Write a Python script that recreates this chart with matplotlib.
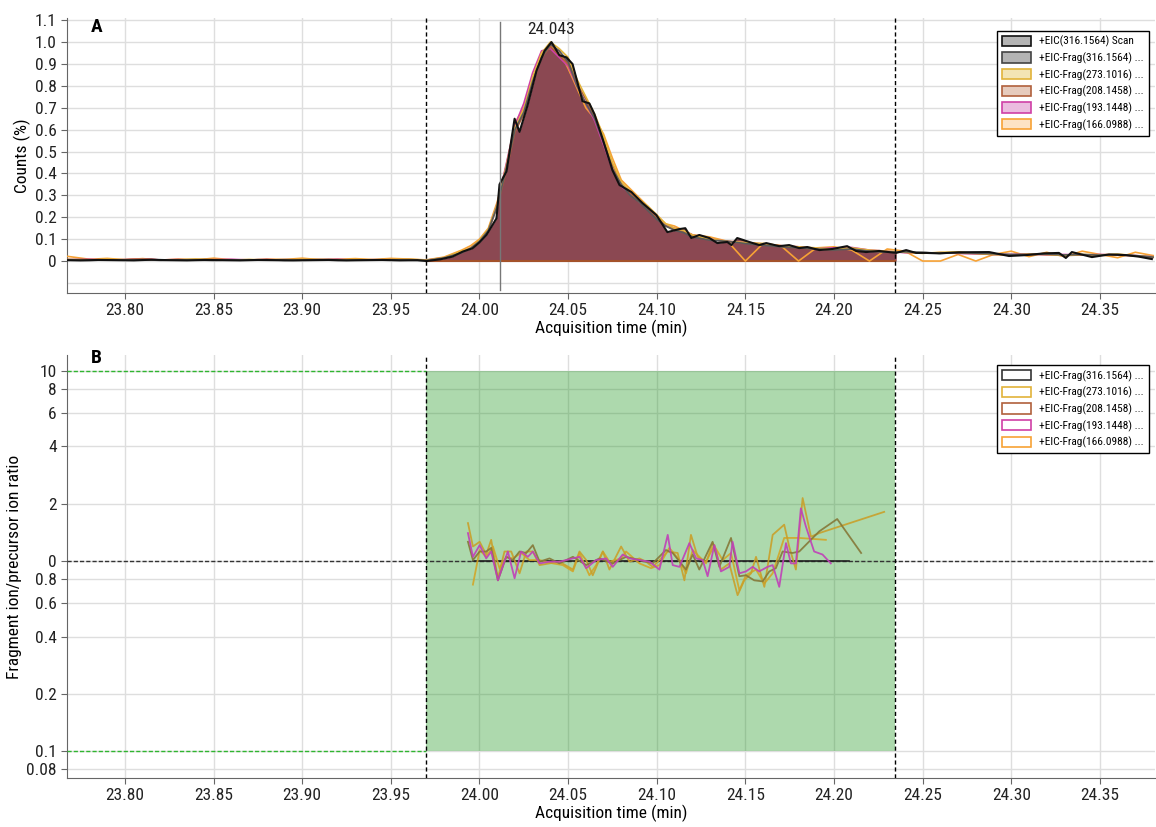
import matplotlib
matplotlib.use("Agg")
import matplotlib.pyplot as plt
import matplotlib.patches as mpatches
from matplotlib.ticker import NullLocator
from matplotlib import font_manager
import numpy as np

# pick a condensed font if there is one
names = {f.name for f in font_manager.fontManager.ttflist}
fam = 'DejaVu Sans'
for cand in ['Roboto Condensed', 'Liberation Sans Narrow', 'Open Sans Condensed']:
    if cand in names:
        fam = cand
        break
plt.rcParams['font.family'] = [fam, 'DejaVu Sans']

# ---- data ----
window_start = 23.970
window_end = 24.2345
apex_marker = 24.0113
apex_time = 24.0406
apex_label = "24.043"

scan_t = [23.767, 23.775, 23.785, 23.795, 23.805, 23.815, 23.825, 23.835, 23.845, 23.855,
          23.865, 23.875, 23.885, 23.895, 23.905, 23.915, 23.925, 23.935, 23.945, 23.955,
          23.965, 23.9702, 23.9780, 23.9848, 23.9905, 23.9961, 24.0000, 24.0040, 24.0070, 24.0096,
          24.0113, 24.0153, 24.0198, 24.0226, 24.0271, 24.0322, 24.0367, 24.0406, 24.0451, 24.0491,
          24.0525, 24.0581, 24.0620, 24.0649, 24.0694, 24.0750, 24.0790, 24.0857, 24.0919, 24.0998,
          24.1060, 24.1128, 24.1161, 24.1195, 24.1240, 24.1297, 24.1342, 24.1398, 24.1421, 24.1454,
          24.1522, 24.1578, 24.1618, 24.1691, 24.1747, 24.1804, 24.1849, 24.1917, 24.1990, 24.2074,
          24.2125, 24.2181, 24.2255, 24.2351, 24.2407, 24.2463, 24.2520, 24.2593, 24.2706, 24.2875,
          24.2987, 24.3083, 24.3185, 24.3269, 24.3308, 24.3342, 24.3455, 24.3551, 24.3647, 24.3720,
          24.3793]
scan_v = [0.004, 0.003, 0.005, 0.004, 0.003, 0.006, 0.004, 0.003, 0.005, 0.004,
          0.003, 0.005, 0.004, 0.003, 0.004, 0.005, 0.003, 0.004, 0.005, 0.003,
          0.004, 0.0, 0.008, 0.02, 0.043, 0.058, 0.085, 0.12, 0.16, 0.195,
          0.35, 0.41, 0.65, 0.59, 0.71, 0.87, 0.96, 1.0, 0.94, 0.93,
          0.90, 0.73, 0.72, 0.67, 0.56, 0.415, 0.347, 0.315, 0.265, 0.21,
          0.132, 0.146, 0.15, 0.105, 0.119, 0.105, 0.082, 0.087, 0.073, 0.105,
          0.087, 0.073, 0.082, 0.068, 0.073, 0.059, 0.064, 0.05, 0.055, 0.068,
          0.046, 0.041, 0.046, 0.037, 0.05, 0.037, 0.037, 0.035, 0.04, 0.041,
          0.023, 0.027, 0.035, 0.037, 0.014, 0.041, 0.018, 0.03, 0.027, 0.02,
          0.009]

frag_t = [23.767, 23.78, 23.79, 23.80, 23.81, 23.82, 23.83, 23.84, 23.85, 23.86,
          23.87, 23.88, 23.89, 23.90, 23.91, 23.92, 23.93, 23.94, 23.95, 23.96,
          23.97, 23.98, 23.99, 23.995, 24.00, 24.005, 24.01, 24.015, 24.02, 24.025,
          24.03, 24.035, 24.04, 24.045, 24.05, 24.055, 24.06, 24.065, 24.07, 24.075,
          24.08, 24.085, 24.09, 24.095, 24.10, 24.105, 24.11, 24.115, 24.12, 24.13,
          24.14, 24.15, 24.16, 24.17, 24.18, 24.19, 24.20, 24.21, 24.22, 24.23,
          24.24, 24.25, 24.26, 24.27, 24.28, 24.29, 24.30, 24.31, 24.32, 24.33,
          24.34, 24.35, 24.36, 24.37, 24.38]
frag316 = [0.004, 0.003, 0.005, 0.004, 0.006, 0.003, 0.005, 0.004, 0.003, 0.005,
           0.004, 0.006, 0.003, 0.004, 0.005, 0.003, 0.004, 0.005, 0.006, 0.004,
           0.002, 0.014, 0.038, 0.058, 0.09, 0.14, 0.25, 0.42, 0.60, 0.68,
           0.82, 0.93, 0.99, 0.96, 0.91, 0.80, 0.72, 0.65, 0.54, 0.42,
           0.35, 0.30, 0.27, 0.23, 0.19, 0.16, 0.14, 0.13, 0.11, 0.095,
           0.09, 0.08, 0.072, 0.065, 0.06, 0.055, 0.05, 0.055, 0.045, 0.04,
           0.042, 0.04, 0.035, 0.038, 0.036, 0.033, 0.03, 0.03, 0.032, 0.028,
           0.03, 0.027, 0.03, 0.025, 0.018]
frag273 = [0.006, 0.004, 0.008, 0.005, 0.007, 0.004, 0.006, 0.009, 0.005, 0.004,
           0.007, 0.005, 0.004, 0.008, 0.006, 0.005, 0.007, 0.004, 0.006, 0.008,
           0.004, 0.016, 0.045, 0.06, 0.095, 0.145, 0.26, 0.43, 0.61, 0.69,
           0.84, 0.95, 1.0, 0.97, 0.93, 0.83, 0.75, 0.67, 0.57, 0.45,
           0.36, 0.32, 0.28, 0.25, 0.21, 0.17, 0.15, 0.14, 0.12, 0.10,
           0.09, 0.085, 0.08, 0.07, 0.065, 0.06, 0.055, 0.06, 0.05, 0.045,
           0.04, 0.035, 0.04, 0.042, 0.035, 0.03, 0.028, 0.032, 0.03, 0.026,
           0.03, 0.028, 0.032, 0.024, 0.02]
frag208 = [0.008, 0.006, 0.004, 0.007, 0.009, 0.005, 0.004, 0.008, 0.006, 0.005,
           0.006, 0.004, 0.007, 0.005, 0.008, 0.006, 0.004, 0.006, 0.005, 0.007,
           0.003, 0.013, 0.042, 0.057, 0.088, 0.135, 0.25, 0.41, 0.59, 0.67,
           0.81, 0.93, 0.98, 0.94, 0.90, 0.81, 0.74, 0.66, 0.55, 0.44,
           0.35, 0.31, 0.27, 0.24, 0.20, 0.16, 0.145, 0.135, 0.115, 0.10,
           0.088, 0.082, 0.074, 0.066, 0.06, 0.054, 0.052, 0.056, 0.046, 0.042,
           0.04, 0.036, 0.038, 0.036, 0.034, 0.03, 0.027, 0.03, 0.03, 0.025,
           0.028, 0.026, 0.027, 0.023, 0.016]
frag193 = [0.005, 0.008, 0.004, 0.006, 0.01, 0.005, 0.007, 0.004, 0.006, 0.008,
           0.005, 0.007, 0.004, 0.006, 0.005, 0.008, 0.004, 0.006, 0.005, 0.006,
           0.004, 0.015, 0.042, 0.06, 0.092, 0.14, 0.26, 0.44, 0.62, 0.72,
           0.86, 0.96, 0.97, 0.93, 0.89, 0.80, 0.72, 0.64, 0.53, 0.42,
           0.34, 0.31, 0.27, 0.24, 0.20, 0.165, 0.15, 0.14, 0.12, 0.10,
           0.09, 0.085, 0.078, 0.07, 0.065, 0.058, 0.06, 0.062, 0.05, 0.045,
           0.038, 0.036, 0.038, 0.035, 0.033, 0.03, 0.03, 0.033, 0.028, 0.03,
           0.027, 0.03, 0.028, 0.025, 0.02]
frag166 = [0.022, 0.008, 0.012, 0.006, 0.011, 0.004, 0.009, 0.005, 0.013, 0.006,
           0.004, 0.009, 0.007, 0.013, 0.006, 0.008, 0.011, 0.007, 0.012, 0.009,
           0.005, 0.018, 0.05, 0.07, 0.10, 0.15, 0.27, 0.43, 0.63, 0.70,
           0.83, 0.94, 0.98, 0.96, 0.88, 0.79, 0.70, 0.65, 0.58, 0.47,
           0.37, 0.33, 0.29, 0.25, 0.21, 0.17, 0.16, 0.14, 0.12, 0.11,
           0.09, 0.0, 0.08, 0.07, 0.0, 0.06, 0.065, 0.05, 0.0, 0.055,
           0.045, 0.0, 0.0, 0.03, 0.0, 0.03, 0.045, 0.02, 0.04, 0.02,
           0.045, 0.03, 0.015, 0.04, 0.025]

# panel B: fragment / precursor ratios
ratio316_t = [23.9963, 24.2086]
ratio316 = [1.0, 1.0]
ratio273_t = [23.9935, 23.9963, 24.0001, 24.0038, 24.0066, 24.0104, 24.0141, 24.0179, 24.0226, 24.0264,
              24.0301, 24.0339, 24.0395, 24.0451, 24.0527, 24.0564, 24.0602, 24.0639, 24.0696, 24.0733,
              24.0799, 24.0846, 24.0902, 24.0940, 24.0977, 24.1062, 24.1118, 24.1156, 24.1193, 24.1231,
              24.1278, 24.1325, 24.1362, 24.1409, 24.1456, 24.1494, 24.1532, 24.1560, 24.1607, 24.1654,
              24.1719, 24.1747, 24.1785, 24.1823, 24.1870, 24.1917, 24.2283]
ratio273 = [1.58, 1.19, 1.26, 1.08, 1.29, 0.81, 1.12, 1.12, 0.86, 1.12,
            1.12, 0.95, 0.97, 0.99, 0.90, 1.12, 1.01, 0.84, 1.12, 0.90,
            1.19, 0.99, 1.03, 0.99, 0.93, 1.12, 1.10, 0.79, 1.37, 1.05,
            0.99, 1.21, 0.90, 0.97, 0.66, 0.79, 0.86, 1.05, 0.73, 1.37,
            1.55, 1.19, 0.90, 2.14, 1.34, 1.40, 1.81]
ratio208_t = [23.9935, 23.9963, 24.0001, 24.0038, 24.0066, 24.0104, 24.0151, 24.0188, 24.0226, 24.0264,
              24.0301, 24.0339, 24.0395, 24.0451, 24.0527, 24.0602, 24.0677, 24.0752, 24.0827, 24.0902,
              24.0977, 24.1052, 24.1090, 24.1165, 24.1203, 24.1240, 24.1315, 24.1353, 24.1419, 24.1466,
              24.1503, 24.1550, 24.1597, 24.1635, 24.1672, 24.1710, 24.1766, 24.1804, 24.1917, 24.2018,
              24.2153]
ratio208 = [1.26, 1.01, 1.12, 1.12, 1.17, 0.79, 1.05, 1.01, 1.12, 1.10,
            1.21, 0.99, 1.03, 0.97, 1.05, 0.95, 1.03, 0.97, 1.05, 1.01,
            0.97, 1.14, 1.10, 0.90, 1.08, 0.90, 1.26, 0.93, 1.32, 0.83,
            0.84, 0.79, 0.78, 0.88, 0.915, 1.12, 1.10, 1.12, 1.43, 1.66,
            1.10]
ratio193_t = [23.9935, 23.9963, 24.0001, 24.0038, 24.0066, 24.0104, 24.0160, 24.0198, 24.0235, 24.0273,
              24.0301, 24.0339, 24.0395, 24.0451, 24.0489, 24.0564, 24.0602, 24.0658, 24.0714, 24.0752,
              24.0808, 24.0846, 24.0902, 24.0959, 24.1015, 24.1062, 24.1090, 24.1128, 24.1184, 24.1222,
              24.1259, 24.1287, 24.1325, 24.1362, 24.1409, 24.1428, 24.1466, 24.1503, 24.1541, 24.1578,
              24.1625, 24.1654, 24.1691, 24.1729, 24.1757, 24.1785, 24.1813, 24.1841, 24.1888, 24.1935,
              24.1982]
ratio193 = [1.40, 1.05, 1.21, 1.03, 1.12, 0.79, 1.12, 0.81, 1.12, 1.05,
            1.12, 0.97, 0.99, 0.99, 1.01, 1.05, 0.915, 1.01, 1.03, 0.93,
            1.08, 1.03, 1.01, 0.99, 0.90, 1.37, 0.95, 0.93, 1.24, 1.03,
            1.01, 0.83, 1.21, 0.88, 0.93, 1.26, 0.86, 0.88, 0.93, 0.88,
            0.93, 0.95, 0.73, 1.24, 0.97, 0.97, 1.89, 1.52, 1.12, 1.08,
            0.97]
ratio166_t = [23.9963, 24.0001, 24.0038, 24.0076, 24.0113, 24.0151, 24.0188, 24.0235, 24.0282, 24.0339,
              24.0414, 24.0470, 24.0527, 24.0564, 24.0620, 24.0658, 24.0696, 24.0733, 24.0799, 24.0827,
              24.0902, 24.0968, 24.1015, 24.1071, 24.1128, 24.1165, 24.1203, 24.1278, 24.1315, 24.1372,
              24.1419, 24.1466, 24.1503, 24.1560, 24.1607, 24.1654, 24.1719, 24.1804, 24.1954]
ratio166 = [0.75, 1.14, 1.05, 1.19, 0.915, 1.05, 1.03, 1.10, 1.01, 1.01,
            0.97, 0.95, 0.88, 1.10, 0.84, 0.95, 1.12, 0.99, 1.03, 1.12,
            0.97, 0.915, 0.95, 1.17, 1.01, 0.86, 1.14, 0.97, 1.24, 1.01,
            1.10, 0.70, 0.84, 0.90, 0.76, 0.86, 1.32, 1.32, 1.29]

ratio_low = 0.1
ratio_high = 10.0

labels_A = ['+EIC(316.1564) Scan', '+EIC-Frag(316.1564) ...', '+EIC-Frag(273.1016) ...',
            '+EIC-Frag(208.1458) ...', '+EIC-Frag(193.1448) ...', '+EIC-Frag(166.0988) ...']
labels_B = labels_A[1:]

xticks = [23.80, 23.85, 23.90, 23.95, 24.00, 24.05, 24.10, 24.15, 24.20, 24.25, 24.30, 24.35]
yticks_A = [0, 0.1, 0.2, 0.3, 0.4, 0.5, 0.6, 0.7, 0.8, 0.9, 1.0, 1.1]
yticks_B = [0.08, 0.1, 0.2, 0.4, 0.6, 0.8, 1, 2, 4, 6, 8, 10]
ylabels_B = ['0.08', '0.1', '0.2', '0.4', '0.6', '0.8', '0', '2', '4', '6', '8', '10']

# colours
c_scan = '#111111'
c316 = '#5a5a5a'
c273 = '#e2b33a'
c208 = '#b0603c'
c193 = '#cf3fa6'
c166 = '#f7a235'
fill_A = '#8b4852'
grid_c = '#dedede'

fig = plt.figure(figsize=(11.56, 8.27), dpi=100)
axA = fig.add_axes([67/1156, 1-293/827, 1-67/1156-0.001, (293-18)/827])
axB = fig.add_axes([67/1156, 1-778/827, 1-67/1156-0.001, (778-355)/827])

xlim = (23.7673, 24.381)

def style(ax):
    ax.set_xlim(*xlim)
    ax.set_xticks(xticks)
    ax.set_xticklabels(['%.2f' % x for x in xticks])
    ax.spines['top'].set_visible(False)
    ax.spines['right'].set_visible(False)
    for s in ['left', 'bottom']:
        ax.spines[s].set_color('#666666')
    ax.tick_params(labelsize=12.5, length=4, color='#666666', labelcolor='#222222')
    ax.grid(True, color=grid_c, lw=1)
    ax.set_axisbelow(True)
    ax.set_xlabel('Acquisition time (min)', fontsize=12.5, labelpad=1)
    ax.axvline(window_start, color='black', ls=(0, (3, 2)), lw=1, zorder=5)
    ax.axvline(window_end, color='black', ls=(0, (3, 2)), lw=1, zorder=5)

# ---- panel A ----
style(axA)
axA.set_ylim(-0.146, 1.11)
axA.set_yticks(yticks_A)
axA.set_yticklabels(['0'] + ['%.1f' % v for v in yticks_A[1:]])
axA.axhline(-0.1, color=grid_c, lw=1, zorder=0)
axA.set_ylabel('Counts (%)', fontsize=12.5, labelpad=3)

st = np.array(scan_t)
sv = np.array(scan_v)
inwin = (st >= window_start) & (st <= window_end + 0.001)
axA.fill_between(st[inwin], 0, sv[inwin], color=fill_A, lw=0, zorder=2)
axA.plot([window_start, window_end], [0, 0], color='#a4522a', lw=1.5, zorder=3)

axA.plot(frag_t, frag166, color=c166, lw=1.2, zorder=3)
axA.plot(frag_t, frag193, color=c193, lw=1.2, zorder=3)
axA.plot(frag_t, frag208, color=c208, lw=1.2, zorder=3)
axA.plot(frag_t, frag273, color=c273, lw=1.2, zorder=3)
axA.plot(frag_t, frag316, color=c316, lw=1.2, zorder=3)
axA.plot(scan_t, scan_v, color=c_scan, lw=1.5, zorder=4)

axA.axvline(apex_marker, ymin=0.01, ymax=0.985, color='#777777', lw=1, zorder=4)
axA.annotate(apex_label, xy=(apex_time, 1.0), xytext=(0, 4), textcoords='offset points',
             ha='center', va='bottom', fontsize=12.5, color='#222222')
axA.text(0.022, 1.0, 'A', transform=axA.transAxes, fontsize=14, fontweight='bold', va='top')

handles_A = [mpatches.Patch(facecolor='#b4b4b4', edgecolor='#111111', lw=1.2),
             mpatches.Patch(facecolor='#b4b4b4', edgecolor='#444444', lw=1.2),
             mpatches.Patch(facecolor='#f3e4b4', edgecolor=c273, lw=1.2),
             mpatches.Patch(facecolor='#e6cbbd', edgecolor=c208, lw=1.2),
             mpatches.Patch(facecolor='#ebbbdf', edgecolor=c193, lw=1.2),
             mpatches.Patch(facecolor='#fde3c4', edgecolor=c166, lw=1.2)]
legA = axA.legend(handles_A, labels_A, loc='upper right', bbox_to_anchor=(1.0, 0.975),
                  fontsize=8.2, frameon=True, fancybox=False, edgecolor='black',
                  framealpha=1, handlelength=2.6, handleheight=1.0, labelspacing=0.45,
                  borderpad=0.45, handletextpad=0.7)
legA.get_frame().set_linewidth(1.0)
legA.set_zorder(10)

# ---- panel B ----
style(axB)
axB.set_yscale('log')
axB.set_ylim(0.0721, 12.1)
axB.set_yticks(yticks_B)
axB.set_yticklabels(ylabels_B)
axB.yaxis.set_minor_locator(NullLocator())
axB.set_ylabel('Fragment ion/precursor ion ratio', fontsize=12.5, labelpad=3)

axB.fill_between([window_start, window_end], ratio_low, ratio_high, color='#1e961e',
                 alpha=0.36, lw=0, zorder=2)
axB.plot([xlim[0], window_start], [ratio_high, ratio_high], color='#2fb52f', ls=(0, (3, 1.5)), lw=1, zorder=3)
axB.plot([xlim[0], window_start], [ratio_low, ratio_low], color='#2fb52f', ls=(0, (3, 1.5)), lw=1, zorder=3)
axB.axhline(1.0, color='#333333', ls=(0, (3, 1.5)), lw=1, zorder=3)

axB.plot(ratio316_t, ratio316, color='#222222', lw=1.2, zorder=4)
axB.plot(ratio166_t, ratio166, color='#d2a628', lw=1.3, alpha=0.9, zorder=4)
axB.plot(ratio273_t, ratio273, color='#c9a02a', lw=1.3, alpha=0.9, zorder=4)
axB.plot(ratio208_t, ratio208, color='#857838', lw=1.3, alpha=0.9, zorder=4)
axB.plot(ratio193_t, ratio193, color='#c040b8', lw=1.3, alpha=0.9, zorder=4)
axB.text(0.022, 1.015, 'B', transform=axB.transAxes, fontsize=14, fontweight='bold', va='top')

handles_B = [mpatches.Patch(facecolor='white', edgecolor=c, lw=1.2)
             for c in ['#333333', c273, c208, c193, c166]]
legB = axB.legend(handles_B, labels_B, loc='upper right', bbox_to_anchor=(1.0, 0.99),
                  fontsize=8.2, frameon=True, fancybox=False, edgecolor='black',
                  framealpha=1, handlelength=2.6, handleheight=1.0, labelspacing=0.45,
                  borderpad=0.45, handletextpad=0.7)
legB.get_frame().set_linewidth(1.0)
legB.set_zorder(10)

fig.savefig('out.png', dpi=100)
